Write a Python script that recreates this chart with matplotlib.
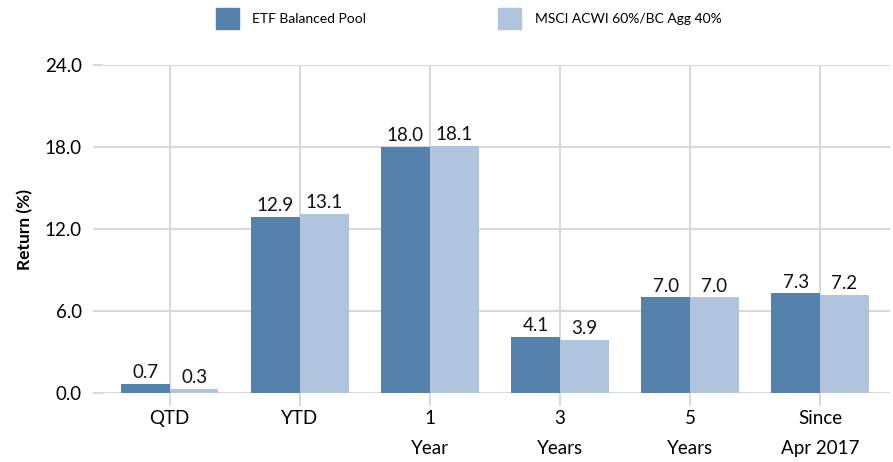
import matplotlib
matplotlib.use('Agg')
import matplotlib.pyplot as plt
import numpy as np
from matplotlib.patches import Patch

plt.rcParams['font.family'] = ['Lato', 'DejaVu Sans']

categories = ['QTD', 'YTD', '1\nYear', '3\nYears', '5\nYears', 'Since\nApr 2017']
etf = [0.7, 12.9, 18.0, 4.1, 7.0, 7.3]
msci = [0.3, 13.1, 18.1, 3.9, 7.0, 7.2]
series_names = ['ETF Balanced Pool', 'MSCI ACWI 60%/BC Agg 40%']
yticks = [0.0, 6.0, 12.0, 18.0, 24.0]

dark, light, grid = '#5581ad', '#b0c4de', '#d9d9d9'

fig = plt.figure(figsize=(8.93, 4.62), dpi=100)
ax = fig.add_axes([0.115, 0.149, 0.882, 0.710])

x = np.arange(len(categories))
w = 0.375
b1 = ax.bar(x - w / 2, etf, w, color=dark, zorder=2)
b2 = ax.bar(x + w / 2, msci, w, color=light, zorder=2)
for bars in (b1, b2):
    ax.bar_label(bars, fmt='%.1f', padding=2, fontsize=13.5, color='#111')

ax.set_xlim(-0.515, len(categories) - 0.46)
ax.set_ylim(0, 24)
ax.set_yticks(yticks)
ax.set_yticklabels([f'{v:.1f}' for v in yticks])
ax.set_xticks(x)
ax.set_xticklabels(categories, fontsize=13.5, linespacing=1.95)
ax.tick_params(axis='y', labelsize=13.5, length=7, color=grid, width=1.5, pad=8)
ax.tick_params(axis='x', length=9, color=grid, width=1.5, pad=3)
ax.grid(True, color=grid, linewidth=1.5, zorder=0)
ax.set_axisbelow(True)
for s in ax.spines.values():
    s.set_visible(False)
ax.set_ylabel('Return (%)', fontsize=12.5, fontweight='bold', labelpad=8)

handles = [Patch(color=dark), Patch(color=light)]
fig.legend(handles, series_names, loc='upper center', bbox_to_anchor=(0.525, 1.01), ncol=2,
           frameon=False, fontsize=10, handlelength=1.6, handleheight=2.0, columnspacing=9.5,
           handletextpad=1.0)

fig.savefig('out.png', dpi=100)
